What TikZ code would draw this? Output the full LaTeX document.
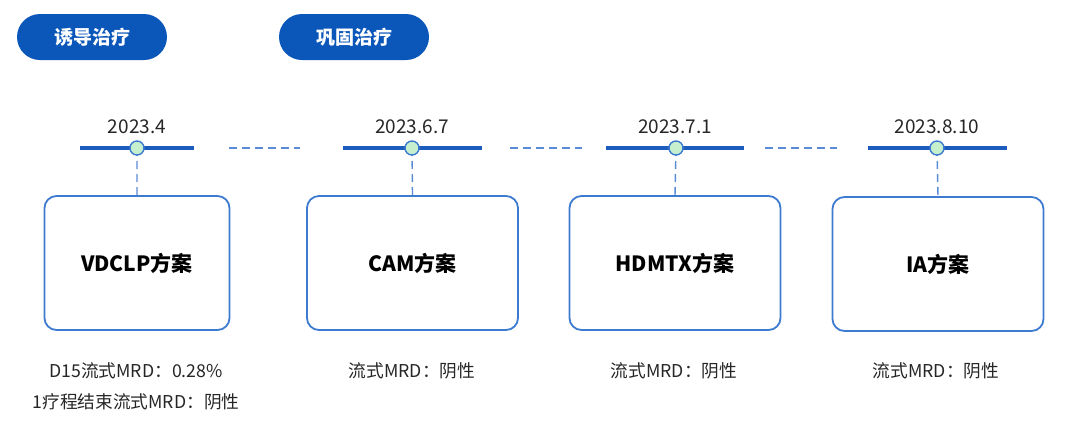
\documentclass[tikz,border=0pt]{standalone}
\usepackage{fontspec}
\setmainfont{Noto Sans CJK SC}
\usetikzlibrary{positioning}

\definecolor{pillblue}{HTML}{0A56B9}
\definecolor{lineblue}{HTML}{1B5CBD}
\definecolor{dashblue}{HTML}{5A8BD6}
\definecolor{boxblue}{HTML}{3D7BD0}
\definecolor{dotgreen}{HTML}{C6EFCE}
\definecolor{txtgray}{HTML}{262626}

\tikzset{
    pill/.style = {fill = pillblue, text = white, rounded corners = 23pt,
        minimum width = 150pt, minimum height = 46pt, inner sep = 0pt,
        font = \fontsize{19}{22}\selectfont\bfseries},
    stage/.style = {draw = boxblue, line width = 1.8pt, rounded corners = 12pt,
        minimum width = 211pt, minimum height = 134pt, inner sep = 0pt,
        font = \fontsize{21}{25}\selectfont\bfseries},
    dot/.style = {draw = boxblue, fill = dotgreen, circle, line width = 1.4pt,
        minimum size = 14pt, inner sep = 0pt},
    datelabel/.style = {text = txtgray, font = \fontsize{19}{22}\selectfont},
    result/.style = {text = txtgray, font = \fontsize{17.7}{21}\selectfont},
    axis/.style = {draw = lineblue, line width = 3.5pt},
    link/.style = {draw = dashblue, line width = 1.4pt, dash pattern = on 8pt off 5pt}
}

\begin{document}
\begin{tikzpicture}[x = 1pt, y = -1pt]
    \useasboundingbox (0, 0) rectangle (1080, 432);

    % phase pills
    \node (induct) [pill] at (92, 37)  {诱导治疗};
    \node (consol) [pill] at (354, 37) {巩固治疗};

    % timeline segments
    \coordinate (a1) at (80, 148);   \coordinate (b1) at (194, 148);
    \coordinate (a2) at (343, 148);  \coordinate (b2) at (482, 148);
    \coordinate (a3) at (606, 148);  \coordinate (b3) at (744, 148);
    \coordinate (a4) at (868, 148);  \coordinate (b4) at (1007, 148);

    \coordinate (g1) at (229, 148);  \coordinate (h1) at (300, 148);
    \coordinate (g2) at (510, 148);  \coordinate (h2) at (582, 148);
    \coordinate (g3) at (765, 148);  \coordinate (h3) at (837, 148);

    \path[axis] (a1) -- (b1) (a2) -- (b2) (a3) -- (b3) (a4) -- (b4);
    \path[link] (g1) -- (h1) (g2) -- (h2) (g3) -- (h3);

    % dates
    \node (d1) [datelabel] at (137, 127)   {2023.4};
    \node (d2) [datelabel] at (412, 127)   {2023.6.7};
    \node (d3) [datelabel] at (675, 127)   {2023.7.1};
    \node (d4) [datelabel] at (937, 127)   {2023.8.10};

    % regimens
    \node (r1) [stage, minimum width = 185pt] at (137, 263) {VDCLP方案};
    \node (r2) [stage] at (412.5, 263) {CAM方案};
    \node (r3) [stage] at (675, 263)   {HDMTX方案};
    \node (r4) [stage] at (938, 264)   {IA方案};

    \path[link] (137, 148) -- (r1.north) (412, 148) -- (r2.north)
        (676, 148) -- (r3.north) (937, 148) -- (r4.north);

    \node (p1) [dot] at (137, 148) {};
    \node (p2) [dot] at (412, 148) {};
    \node (p3) [dot] at (676, 148) {};
    \node (p4) [dot] at (937, 148) {};

    % MRD results
    \node (m1) [result] at (136, 371) {D15流式MRD：0.28\%};
    \node (m1b) [result] at (136, 402) {1疗程结束流式MRD：阴性};
    \node (m2) [result] at (412, 371) {流式MRD：阴性};
    \node (m3) [result] at (674, 371) {流式MRD：阴性};
    \node (m4) [result] at (936, 371) {流式MRD：阴性};
\end{tikzpicture}
\end{document}
